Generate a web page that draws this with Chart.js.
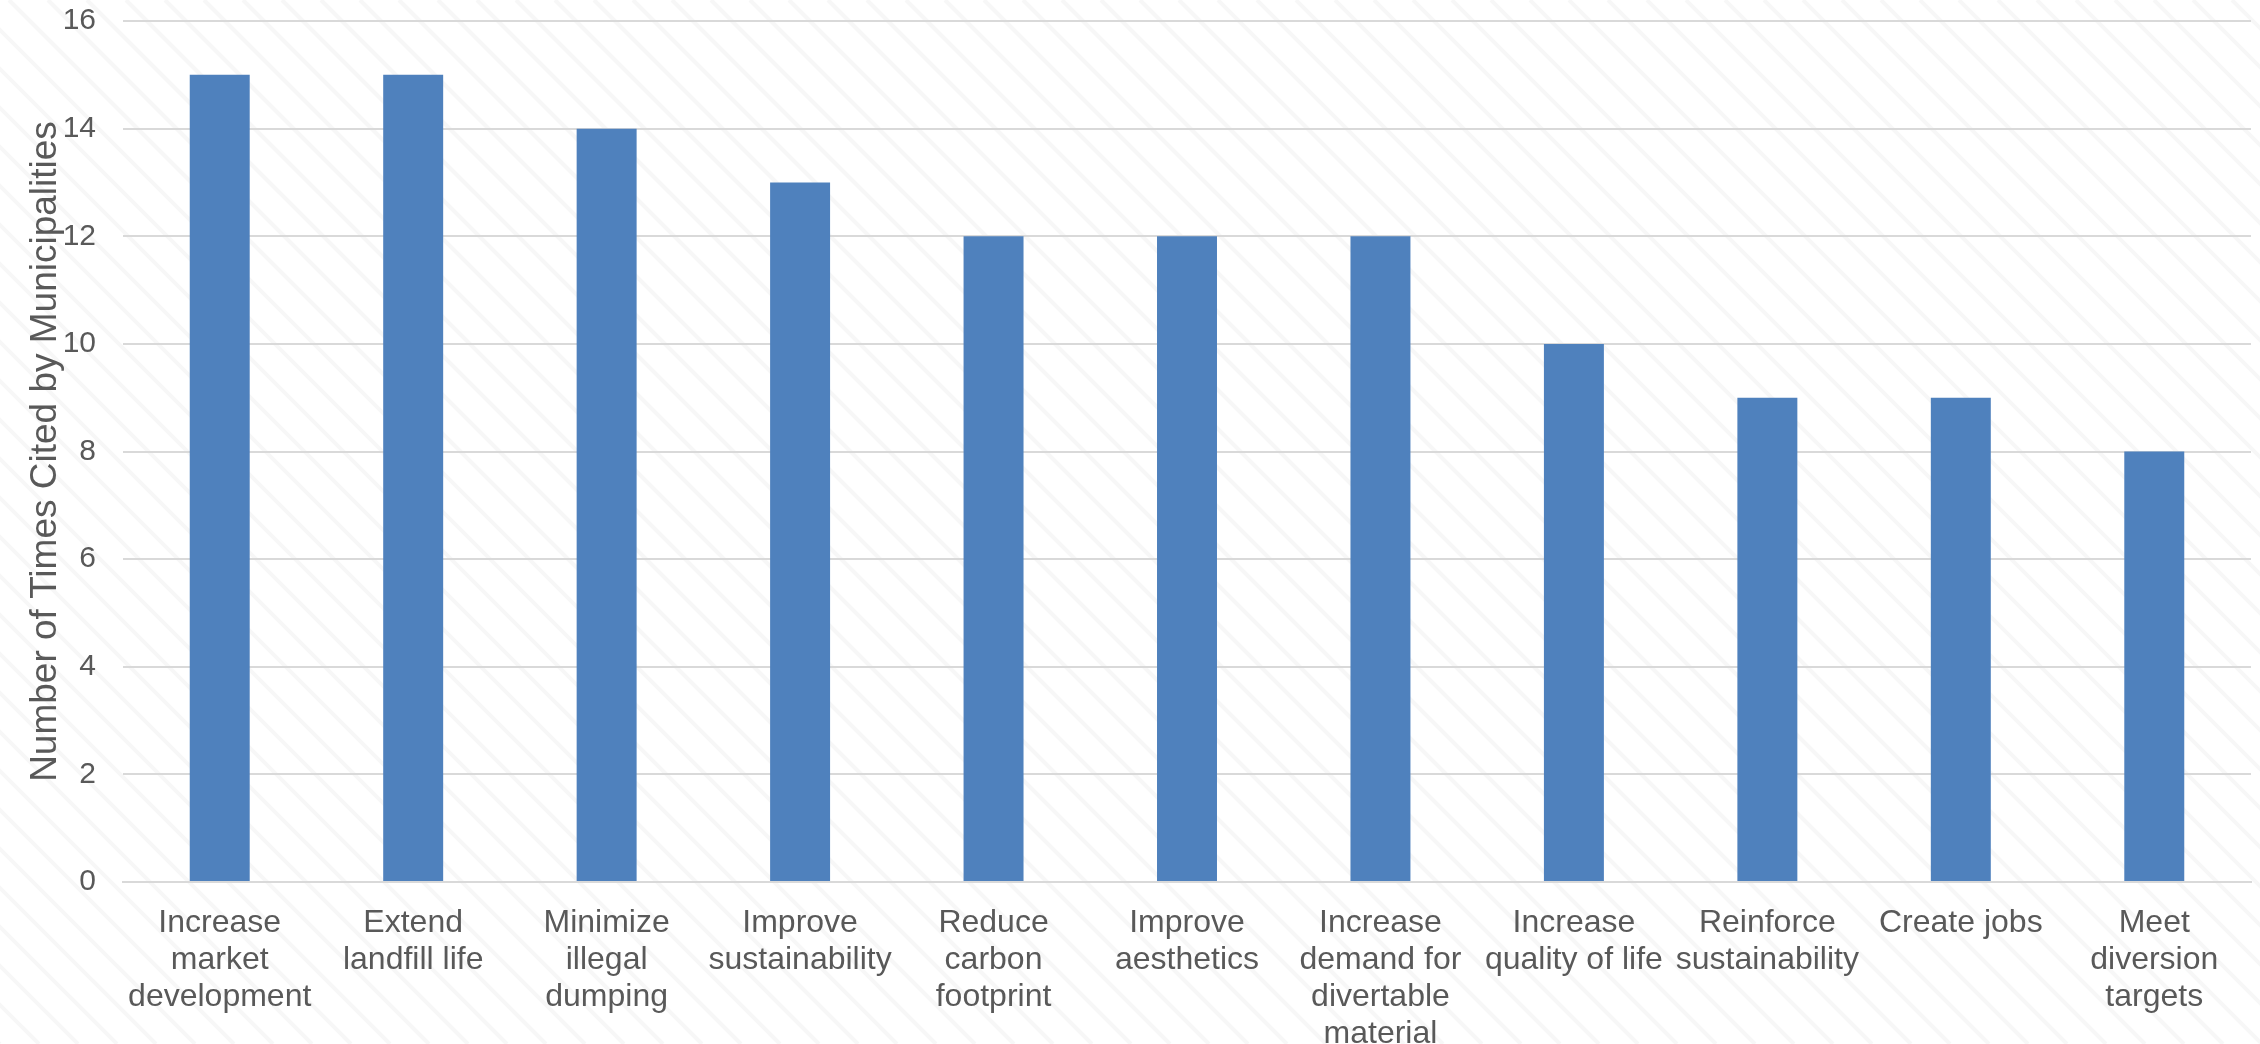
<!DOCTYPE html>
<html>
<head>
<meta charset="utf-8">
<script src="https://cdn.jsdelivr.net/npm/chart.js@4/dist/chart.umd.min.js"></script>
<style>
    html, body { margin: 0; padding: 0; background: #ffffff; }
    #wrap { width: 2260px; height: 1044px; position: relative; }
</style>
</head>
<body>
<div id="wrap"><canvas id="barChart"></canvas></div>
<script>
// ===== Data =====
const categories = [
    ['Increase', 'market', 'development'],
    ['Extend', 'landfill life'],
    ['Minimize', 'illegal', 'dumping'],
    ['Improve', 'sustainability'],
    ['Reduce', 'carbon', 'footprint'],
    ['Improve', 'aesthetics'],
    ['Increase', 'demand for', 'divertable', 'material'],
    ['Increase', 'quality of life'],
    ['Reinforce', 'sustainability'],
    ['Create jobs'],
    ['Meet', 'diversion', 'targets']
];
const timesCited = [15, 15, 14, 13, 12, 12, 12, 10, 9, 9, 8];
const yTicks = [0, 2, 4, 6, 8, 10, 12, 14, 16];
const yTitle = 'Number of Times Cited by Municipalities';

// Light diagonal hatch behind the whole chart
const hatchBackground = {
    id: 'hatchBackground',
    beforeDraw(chart) {
        const ctx = chart.ctx;
        const w = chart.width, h = chart.height;
        ctx.save();
        ctx.fillStyle = '#ffffff';
        ctx.fillRect(0, 0, w, h);
        ctx.strokeStyle = '#f7f7f7';
        ctx.lineWidth = 4;
        const step = 39;
        for (let x = -h; x < w + h; x += step) {
            ctx.beginPath();
            ctx.moveTo(x, 0);
            ctx.lineTo(x + h, h);
            ctx.stroke();
        }
        ctx.restore();
    }
};

const ctx = document.getElementById('barChart').getContext('2d');
new Chart(ctx, {
    type: 'bar',
    data: {
        labels: categories,
        datasets: [{
            label: yTitle,
            data: timesCited,
            backgroundColor: '#4f81bd',
            borderWidth: 0,
            barPercentage: 0.62,
            categoryPercentage: 0.5
        }]
    },
    options: {
        responsive: true,
        maintainAspectRatio: false,
        animation: false,
        layout: {
            padding: { top: 21, right: 9, left: 0, bottom: 0 }
        },
        plugins: {
            legend: { display: false },
            tooltip: { enabled: false }
        },
        scales: {
            x: {
                afterFit: axis => {
                    axis.height = 162;
                },
                grid: { display: false },
                border: { display: true, color: '#d9d9d9', width: 2 },
                ticks: {
                    color: '#595959',
                    padding: 15,
                    maxRotation: 0,
                    autoSkip: false,
                    font: { family: 'Liberation Sans', size: 32, lineHeight: 1.15 }
                }
            },
            y: {
                min: 0,
                max: 16,
                afterBuildTicks: axis => {
                    axis.ticks = yTicks.map(v => ({ value: v }));
                },
                afterFit: axis => {
                    axis.width = 123;
                    axis.paddingTop = 0;
                    axis.paddingBottom = 0;
                },
                grid: { color: '#d9d9d9', lineWidth: 2, drawTicks: false },
                border: { display: false },
                ticks: {
                    color: '#595959',
                    padding: 27,
                    font: { family: 'Liberation Sans', size: 30 }
                },
                title: {
                    display: true,
                    text: yTitle,
                    color: '#595959',
                    padding: { top: 24, bottom: 0 },
                    font: { family: 'Liberation Sans', size: 37, weight: 'normal', lineHeight: 1.2 }
                }
            }
        }
    },
    plugins: [hatchBackground]
});
</script>
</body>
</html>
